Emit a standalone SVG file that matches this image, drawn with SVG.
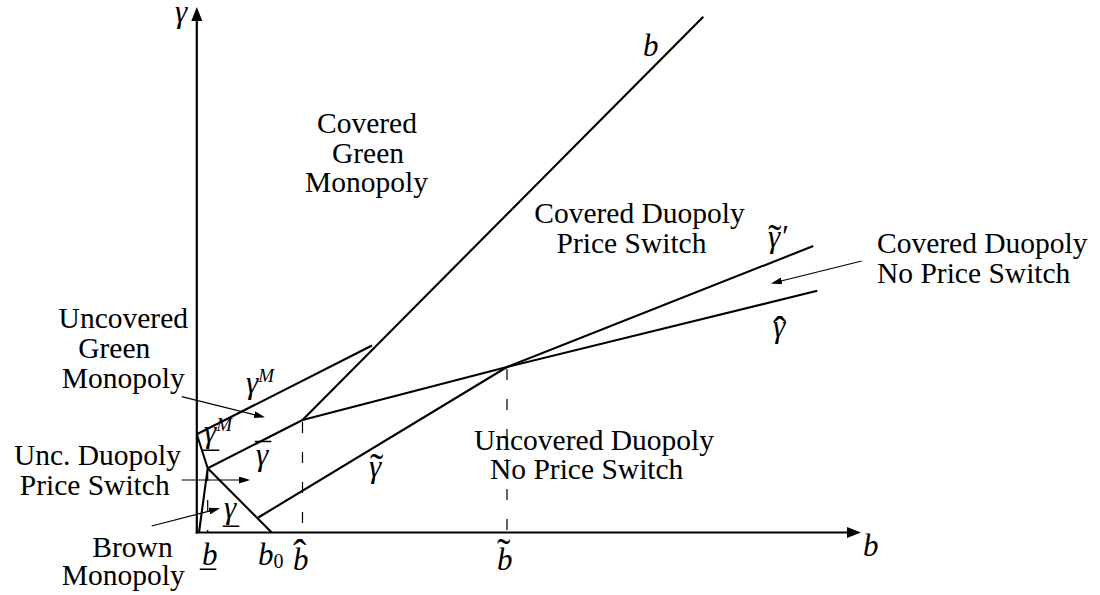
<svg xmlns="http://www.w3.org/2000/svg" width="1100" height="595" viewBox="0 0 1100 595">
<defs>
<marker id="axh" markerUnits="userSpaceOnUse" markerWidth="14" markerHeight="11" refX="4" refY="5.5" orient="auto"><path d="M0,0 L14,5.5 L0,11 z" fill="#000"/></marker>
<marker id="ah" markerUnits="userSpaceOnUse" markerWidth="11" markerHeight="7" refX="9" refY="3.5" orient="auto"><path d="M0,0 L11,3.5 L0,7 z" fill="#000"/></marker>
</defs>
<style>
text{font-family:"Liberation Serif","DejaVu Serif","Times New Roman",serif;fill:#000}
.t{font-size:29.5px;text-anchor:middle}
.tl{font-size:29.5px}
.m{font-size:31px;font-style:italic}
.acc{font-size:32px;font-style:normal}
.wacc{font-size:40px;font-style:normal}
.sup{font-size:19px;font-style:italic}
.sub{font-size:20px;font-style:normal}
.axis{fill:none;stroke:#000;stroke-width:2.2;marker-end:url(#axh)}
.curve{fill:none;stroke:#000;stroke-width:2.1;stroke-linejoin:round}
.dash{fill:none;stroke:#000;stroke-width:1.2;stroke-dasharray:11 19}
.lab{fill:none;stroke:#000;stroke-width:1.2;marker-end:url(#ah)}
</style>
<g id="axes">
<path class="axis" d="M196.8,533.5 V17"/>
<path class="axis" d="M195.7,532.5 H851"/>
</g>
<g id="curves">
<path id="gammaM" class="curve" d="M196.8,434.3 L372,345.5"/>
<path id="gammaM-under" class="curve" d="M196.8,434.3 L207.7,468.3 L199,532.5"/>
<path id="b0-line" class="curve" d="M207.7,468.3 L271.7,532.5"/>
<path id="gammabar-hat" class="curve" d="M207.7,468.3 L302.5,420 L507,367 L817.3,290.7"/>
<path id="b-line" class="curve" d="M302.5,420 L703.3,16.7"/>
<path id="gammatilde" class="curve" d="M258.3,517.5 L507,367 L813.3,246"/>
</g>
<g id="dashes">
<path class="dash" d="M207.7,470 V532"/>
<path class="dash" d="M302.5,422 V532"/>
<path class="dash" d="M507,369 V532"/>
</g>
<g id="connectors">
<path class="lab" d="M181.7,396.7 L263,416.8"/>
<path class="lab" d="M181.7,480 L248,480"/>
<path class="lab" d="M151.7,526 L218,508.8"/>
<path class="lab" d="M861.7,261 L773,283"/>
</g>
<g id="region-covered-green">
<text class="t" x="367" y="133">Covered</text>
<text class="t" x="368" y="162.5">Green</text>
<text class="t" x="366.5" y="191.5">Monopoly</text>
</g>
<g id="region-covered-duopoly-switch">
<text class="t" x="639.5" y="223.3">Covered Duopoly</text>
<text class="t" x="631.5" y="253.3">Price Switch</text>
</g>
<g id="region-covered-duopoly-noswitch">
<text class="tl" x="877" y="253.3">Covered Duopoly</text>
<text class="tl" x="877" y="283.3">No Price Switch</text>
</g>
<g id="region-uncovered-green">
<text class="t" x="123.3" y="328.3">Uncovered</text>
<text class="t" x="114.2" y="358.3">Green</text>
<text class="t" x="123.3" y="388.3">Monopoly</text>
</g>
<g id="region-unc-duopoly-switch">
<text class="t" x="97.5" y="465">Unc. Duopoly</text>
<text class="t" x="94.7" y="495">Price Switch</text>
</g>
<g id="region-brown">
<text class="t" x="132.5" y="556.7">Brown</text>
<text class="t" x="123.3" y="585">Monopoly</text>
</g>
<g id="region-uncovered-duopoly">
<text class="t" x="594" y="450">Uncovered Duopoly</text>
<text class="t" x="586.7" y="479.3">No Price Switch</text>
</g>
<g id="math-labels">
<text id="lbl-gamma-axis" class="m" x="175" y="22">γ</text>
<text id="lbl-b-axis" class="m" x="863" y="556">b</text>
<text id="lbl-b-line" class="m" x="643" y="56">b</text>
<text id="lbl-gammaM" class="m" x="246" y="393">γ<tspan class="sup" dy="-11">M</tspan></text>
<text id="lbl-gammaM-under" class="m" x="204" y="442">γ<tspan class="sup" dy="-11">M</tspan><tspan class="acc" x="203" y="447">_</tspan></text>
<text id="lbl-gammabar" class="m" x="256" y="465">γ<tspan class="acc" x="255" y="465">¯</tspan></text>
<text id="lbl-gammaunder" class="m" x="224" y="518">γ<tspan class="acc" x="223" y="523">_</tspan></text>
<text id="lbl-gammatilde" class="m" x="369" y="477">γ<tspan class="wacc" x="370" y="481">˜</tspan></text>
<text id="lbl-gammatilde-prime" class="m" x="768" y="247">γ′<tspan class="wacc" x="768" y="252">˜</tspan></text>
<text id="lbl-gammahat" class="m" x="773" y="337">γ<tspan class="wacc" x="773" y="344">ˆ</tspan></text>
<text id="lbl-b-under" class="m" x="202" y="565">b<tspan class="acc" x="200" y="566">_</tspan></text>
<text id="lbl-b0" class="m" x="258" y="565">b<tspan class="sub" dy="3">0</tspan></text>
<text id="lbl-bhat" class="m" x="293" y="570">b<tspan class="wacc" x="293" y="567">ˆ</tspan></text>
<text id="lbl-btilde" class="m" x="497" y="570">b<tspan class="wacc" x="497" y="566">˜</tspan></text>
</g>
</svg>
